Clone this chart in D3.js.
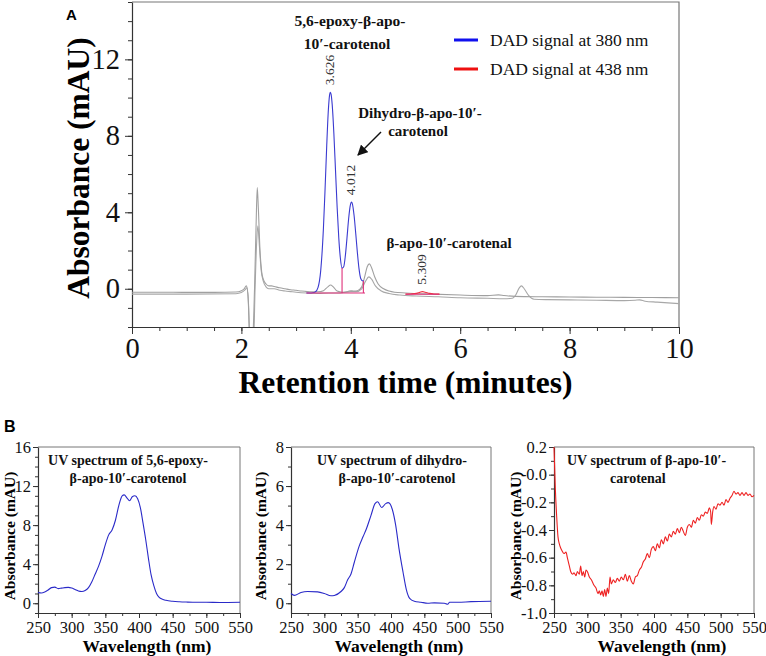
<!DOCTYPE html>
<html><head><meta charset="utf-8">
<script src="https://cdn.jsdelivr.net/npm/d3@7"></script>
<style>body{margin:0;background:#fff}</style>
</head><body><svg id="c" width="766" height="656" xmlns="http://www.w3.org/2000/svg"></svg>
<script>
// ---------- Panel A data: chromatogram ----------
const retentionTicks = [0, 2, 4, 6, 8, 10];
const absorbanceTicksA = [0, 4, 8, 12];
const grayUpper = [[0,-0.18],[0.5,-0.18],[1.0,-0.19],[1.5,-0.19],[1.9,-0.17],[2.0,-0.1],[2.05,0.0],[2.09,0.15],[2.12,-0.3],[2.15,-2.5],[2.18,-3],[2.21,-2.5],[2.24,0],[2.27,3.5],[2.29,5.3],[2.31,4.2],[2.34,2.0],[2.37,0.9],[2.4,0.5],[2.45,0.25],[2.5,0.15],[2.55,0.15],[2.6,0.12],[2.7,0.05],[2.8,0.0],[2.9,-0.05],[3.0,-0.08],[3.1,-0.12],[3.2,-0.15],[3.3,-0.16],[3.4,-0.16],[3.5,-0.1],[3.58,0.1],[3.63,0.2],[3.68,0.1],[3.75,-0.12],[3.85,-0.18],[3.95,-0.14],[4.0,-0.1],[4.05,-0.12],[4.12,-0.1],[4.2,0.1],[4.26,0.7],[4.3,1.15],[4.34,1.3],[4.38,1.1],[4.44,0.6],[4.5,0.25],[4.6,0.0],[4.7,-0.12],[4.8,-0.18],[5.0,-0.22],[5.5,-0.28],[6.0,-0.33],[6.5,-0.36],[6.7,-0.32],[6.8,-0.35],[7.0,-0.4],[7.5,-0.42],[8.0,-0.43],[8.5,-0.44],[9.0,-0.45],[9.5,-0.46],[10,-0.47]];
const grayLower = [[0,-0.28],[1.0,-0.28],[1.9,-0.26],[2.0,-0.2],[2.07,-0.05],[2.1,0.05],[2.13,-0.8],[2.16,-3],[2.22,-3],[2.25,0],[2.28,2.5],[2.3,3.3],[2.33,2.2],[2.36,1.0],[2.4,0.4],[2.45,0.1],[2.5,0.0],[2.6,0.0],[2.7,-0.08],[2.8,-0.12],[2.9,-0.15],[3.0,-0.18],[3.2,-0.22],[3.4,-0.24],[3.6,-0.22],[3.8,-0.22],[4.0,-0.15],[4.1,-0.15],[4.2,0.0],[4.27,0.4],[4.33,0.62],[4.38,0.5],[4.45,0.15],[4.55,-0.1],[4.7,-0.25],[4.9,-0.33],[5.2,-0.38],[5.6,-0.42],[6.0,-0.47],[6.5,-0.5],[6.8,-0.52],[6.95,-0.5],[7.02,-0.3],[7.08,0.05],[7.12,0.15],[7.17,0.0],[7.25,-0.35],[7.35,-0.55],[7.6,-0.57],[8.0,-0.58],[8.5,-0.6],[9.0,-0.62],[9.2,-0.6],[9.28,-0.58],[9.38,-0.65],[9.6,-0.7],[10,-0.78]];
const signal380 = [[3.19,-0.22],[3.25,-0.22],[3.30,-0.21],[3.35,-0.17],[3.40,0.06],[3.45,0.95],[3.50,3.19],[3.53,5.24],[3.56,7.49],[3.59,9.36],[3.61,10.09],[3.626,10.28],[3.64,10.17],[3.66,9.63],[3.69,8.15],[3.72,6.22],[3.75,4.28],[3.78,2.67],[3.81,1.58],[3.84,1.08],[3.87,1.15],[3.90,1.72],[3.93,2.65],[3.96,3.65],[3.99,4.35],[4.012,4.53],[4.03,4.43],[4.06,3.83],[4.09,2.90],[4.12,1.90],[4.15,1.05],[4.18,0.55],[4.21,0.42],[4.24,0.40]];
const signal438 = [[5.0,-0.28],[5.1,-0.27],[5.2,-0.24],[5.26,-0.19],[5.31,-0.15],[5.36,-0.18],[5.44,-0.24],[5.52,-0.27],[5.62,-0.28]];
const integrationBaselines = [[[3.19,-0.22],[4.26,-0.22]], [[5.0,-0.29],[5.62,-0.29]]];
const dropLines = [[3.84,-0.22,1.08],[4.23,-0.22,0.40]];
const peakTimes = [[3.626,10.28,"3.626"],[4.012,4.53,"4.012"],[5.309,-0.15,"5.309"]];
const legendLabels = ["DAD signal at 380 nm","DAD signal at 438 nm"];

// ---------- Panel B data: UV spectra ----------
const wavelengthTicks = [250,300,350,400,450,500,550];
const spectrumEpoxy = [[250,1.1],[255,1.05],[260,1.15],[265,1.35],[270,1.6],[275,1.65],[280,1.5],[285,1.55],[290,1.6],[295,1.62],[300,1.55],[305,1.4],[310,1.25],[315,1.2],[320,1.3],[325,1.6],[330,2.2],[335,3.0],[340,3.8],[345,4.8],[350,6.0],[355,7.0],[360,7.5],[365,8.5],[370,10.0],[375,11.0],[378,11.1],[382,10.8],[386,10.5],[390,10.9],[394,11.0],[398,10.7],[402,9.8],[406,8.2],[410,6.5],[414,4.6],[418,2.9],[422,1.8],[426,1.0],[430,0.6],[435,0.4],[440,0.3],[450,0.2],[460,0.15],[470,0.12],[480,0.1],[490,0.1],[500,0.1],[520,0.08],[550,0.1]];
const spectrumDihydro = [[250,0.5],[255,0.4],[265,0.55],[275,0.6],[290,0.58],[300,0.5],[310,0.38],[315,0.4],[325,0.6],[330,0.8],[335,1.2],[340,1.5],[345,2.1],[352,2.9],[358,3.4],[363,3.8],[370,4.5],[376,5.1],[380,5.2],[386,4.9],[392,5.1],[396,5.15],[402,4.8],[407,4.0],[412,2.8],[418,1.6],[423,0.7],[428,0.25],[435,0.1],[445,0.05],[455,0.0],[465,0.02],[480,0.0],[485,-0.05],[488,0.05],[500,0.05],[520,0.08],[550,0.1]];
const spectrumCarotenal = [[250,0.2],[252,-0.1],[254,-0.3],[256,-0.45],[258,-0.5],[260,-0.53],[262,-0.55],[265,-0.57],[268,-0.56],[270,-0.6],[273,-0.66],[275,-0.7],[278,-0.72],[280,-0.71],[283,-0.73],[285,-0.7],[288,-0.72],[290,-0.66],[292,-0.73],[294,-0.7],[296,-0.74],[298,-0.69],[300,-0.7],[303,-0.74],[306,-0.76],[310,-0.8],[313,-0.82],[316,-0.86],[318,-0.84],[320,-0.87],[322,-0.84],[324,-0.88],[326,-0.83],[328,-0.88],[330,-0.82],[332,-0.86],[334,-0.74],[336,-0.79],[339,-0.76],[342,-0.78],[345,-0.75],[348,-0.77],[351,-0.74],[354,-0.76],[357,-0.72],[360,-0.77],[363,-0.73],[366,-0.77],[369,-0.79],[372,-0.74],[375,-0.73],[378,-0.69],[381,-0.67],[384,-0.63],[387,-0.61],[390,-0.57],[393,-0.6],[396,-0.54],[399,-0.52],[402,-0.55],[405,-0.5],[408,-0.53],[411,-0.47],[414,-0.5],[417,-0.45],[420,-0.48],[423,-0.43],[426,-0.45],[429,-0.41],[432,-0.43],[435,-0.39],[438,-0.42],[441,-0.38],[444,-0.41],[447,-0.44],[450,-0.38],[453,-0.36],[456,-0.38],[459,-0.33],[462,-0.35],[465,-0.31],[468,-0.33],[471,-0.29],[474,-0.3],[477,-0.27],[480,-0.28],[483,-0.24],[485,-0.27],[486,-0.36],[488,-0.27],[490,-0.23],[493,-0.25],[496,-0.21],[499,-0.22],[502,-0.2],[505,-0.22],[508,-0.18],[511,-0.2],[514,-0.17],[517,-0.15],[520,-0.12],[523,-0.14],[526,-0.13],[529,-0.15],[532,-0.13],[535,-0.15],[538,-0.13],[541,-0.15],[544,-0.14],[547,-0.16],[550,-0.15]];

const serif = "'Liberation Serif','Times New Roman',serif";
const sans = "'Liberation Sans',Arial,sans-serif";
const svg = d3.select("#c");

// ================= Panel A =================
const A = {l:132, r:679, t:2, b:327};
const xA = d3.scaleLinear().domain([0,10]).range([A.l, A.r]);
const yA = d3.scaleLinear().domain([-2,15]).range([A.b, A.t]);

svg.append("defs").append("clipPath").attr("id","clipA")
  .append("rect").attr("x",A.l).attr("y",A.t).attr("width",A.r-A.l).attr("height",A.b-A.t);

svg.append("path").attr("d",`M${A.l},${A.t}H${A.r}V${A.b}`).attr("fill","none").attr("stroke","#777").attr("stroke-width",1.2);

function styleAxis(g, fs){
  g.select(".domain").attr("stroke","#333").attr("stroke-width",1.2);
  g.selectAll(".tick line").attr("stroke","#333");
  g.selectAll("text").attr("font-family",serif).attr("font-size",fs).attr("fill","#111");
}
svg.append("g").attr("transform",`translate(0,${A.b})`)
  .call(d3.axisBottom(xA).tickValues(d3.range(0,10.01,0.5)).tickSize(4).tickFormat(""))
  .call(g=>{g.select(".domain").remove(); g.selectAll("line").attr("stroke","#333");});
svg.append("g").attr("transform",`translate(${A.l},0)`)
  .call(d3.axisLeft(yA).tickValues(d3.range(-2,15.01,1)).tickSize(4).tickFormat(""))
  .call(g=>{g.select(".domain").remove(); g.selectAll("line").attr("stroke","#333");});
svg.append("g").attr("transform",`translate(0,${A.b})`)
  .call(d3.axisBottom(xA).tickValues(retentionTicks).tickSize(7).tickPadding(4).tickSizeOuter(0))
  .call(g=>styleAxis(g,28.5));
svg.append("g").attr("transform",`translate(${A.l},0)`)
  .call(d3.axisLeft(yA).tickValues(absorbanceTicksA).tickSize(7).tickPadding(5).tickSizeOuter(0))
  .call(g=>styleAxis(g,28.5));

const lineA = d3.line().x(d=>xA(d[0])).y(d=>yA(d[1])).curve(d3.curveMonotoneX);
const plotA = svg.append("g").attr("clip-path","url(#clipA)");
plotA.append("path").datum(grayLower).attr("d",lineA).attr("fill","none").attr("stroke","#a8a8a8").attr("stroke-width",1.1);
plotA.append("path").datum(grayUpper).attr("d",lineA).attr("fill","none").attr("stroke","#a0a0a0").attr("stroke-width",1.1);
plotA.append("path").datum(signal380).attr("d",lineA).attr("fill","none").attr("stroke","#3a3ad0").attr("stroke-width",1.1);
plotA.append("path").datum(signal438).attr("d",lineA).attr("fill","none").attr("stroke","#f03040").attr("stroke-width",1.1);
integrationBaselines.forEach(seg=>{
  plotA.append("path").datum(seg).attr("d",d3.line().x(d=>xA(d[0])).y(d=>yA(d[1]))).attr("stroke","#e0307a").attr("stroke-width",1.1).attr("fill","none");
});
dropLines.forEach(d=>{
  plotA.append("line").attr("x1",xA(d[0])).attr("x2",xA(d[0])).attr("y1",yA(d[1])).attr("y2",yA(d[2])).attr("stroke","#e0307a").attr("stroke-width",1.1);
});
peakTimes.forEach(d=>{
  const x = xA(d[0])+4, y = yA(d[1])-7;
  svg.append("text").attr("transform",`translate(${x},${y}) rotate(-90)`)
    .attr("font-family",serif).attr("font-size",13.5).attr("fill","#333").text(d[2]);
});

// axis titles A
svg.append("text").attr("x",(A.l+A.r)/2).attr("y",393).attr("text-anchor","middle")
  .attr("font-family",serif).attr("font-weight","bold").attr("font-size",31.5).text("Retention time (minutes)");
svg.append("text").attr("transform",`translate(89,168) rotate(-90)`).attr("text-anchor","middle")
  .attr("font-family",serif).attr("font-weight","bold").attr("font-size",31.5).text("Absorbance (mAU)");
svg.append("text").attr("x",66).attr("y",20).attr("font-family",sans).attr("font-weight","bold").attr("font-size",15).text("A");

function boldLabel(x,y,txt,anchor,fs){
  svg.append("text").attr("x",x).attr("y",y).attr("text-anchor",anchor||"middle")
    .attr("font-family",serif).attr("font-weight","bold").attr("font-size",fs||15).attr("fill","#111").text(txt);
}
boldLabel(350,26,"5,6-epoxy-β-apo-","middle",15.5);
boldLabel(347,49,"10′-carotenol","middle",15.5);
boldLabel(420,118,"Dihydro-β-apo-10′-","middle",15);
boldLabel(418,136,"carotenol","middle",15);
boldLabel(449,248,"β-apo-10′-carotenal","middle",15);
svg.append("defs").append("marker").attr("id","ah").attr("viewBox","0 0 10 10").attr("refX",9).attr("refY",5)
  .attr("markerWidth",7).attr("markerHeight",7).attr("orient","auto")
  .append("path").attr("d","M0,0L10,5L0,10z").attr("fill","#111");
svg.append("line").attr("x1",381).attr("y1",132).attr("x2",358).attr("y2",155).attr("stroke","#111").attr("stroke-width",1.5).attr("marker-end","url(#ah)");

const legColors = ["#1010ee","#ee1010"];
legendLabels.forEach((t,i)=>{
  const y = 40 + i*29;
  svg.append("line").attr("x1",454).attr("x2",478).attr("y1",y).attr("y2",y).attr("stroke",legColors[i]).attr("stroke-width",3);
  svg.append("text").attr("x",490).attr("y",y+6).attr("font-family",serif).attr("font-size",17.5).attr("fill","#111").text(t);
});

// ================= Panel B =================
svg.append("text").attr("x",4).attr("y",432).attr("font-family",sans).attr("font-weight","bold").attr("font-size",16).text("B");

const panels = [
  {l:38, r:240, data:spectrumEpoxy, yd:[-1,16], major:[0,4,8,12,16], minor:d3.range(-1,16.01,1), color:"#2a2ac8",
   titles:[[128,465,"UV spectrum of 5,6-epoxy-","middle"],[128,483,"β-apo-10′-carotenol","middle"]], fmt:d=>d, ytx:14.5},
  {l:291, r:491, data:spectrumDihydro, yd:[-0.5,8], major:[0,2,4,6,8], minor:d3.range(0,8.01,1), color:"#2a2ac8",
   titles:[[392,465,"UV spectrum of dihydro-","middle"],[397,483,"β-apo-10′-carotenol","middle"]], fmt:d=>d, ytx:266},
  {l:554, r:754, data:spectrumCarotenal, yd:[-1,0.2], major:[-1,-0.8,-0.6,-0.4,-0.2,0,0.2], minor:d3.range(-1,0.201,0.1), color:"#ee2020",
   titles:[[567,465,"UV spectrum of  β-apo-10′-","start"],[610,483,"carotenal","start"]], fmt:d=>Math.abs(d)<1e-9?"-0.0":d.toFixed(1), ytx:521}
];
const B = {t:447, b:613};
panels.forEach((p,i)=>{
  const x = d3.scaleLinear().domain([250,550]).range([p.l,p.r]);
  const y = d3.scaleLinear().domain(p.yd).range([B.b,B.t]);
  svg.append("path").attr("d",`M${p.l},${B.t}H${p.r}V${B.b}`).attr("fill","none").attr("stroke","#777").attr("stroke-width",1);
  svg.append("g").attr("transform",`translate(0,${B.b})`)
    .call(d3.axisBottom(x).tickValues(d3.range(250,550.1,25)).tickSize(3).tickFormat(""))
    .call(g=>{g.select(".domain").remove(); g.selectAll("line").attr("stroke","#333");});
  svg.append("g").attr("transform",`translate(${p.l},0)`)
    .call(d3.axisLeft(y).tickValues(p.minor).tickSize(3).tickFormat(""))
    .call(g=>{g.select(".domain").remove(); g.selectAll("line").attr("stroke","#333");});
  svg.append("g").attr("transform",`translate(0,${B.b})`)
    .call(d3.axisBottom(x).tickValues(wavelengthTicks).tickSize(5).tickPadding(3).tickSizeOuter(0))
    .call(g=>styleAxis(g,16.5));
  svg.append("g").attr("transform",`translate(${p.l},0)`)
    .call(d3.axisLeft(y).tickValues(p.major).tickSize(5).tickPadding(2).tickSizeOuter(0).tickFormat(p.fmt))
    .call(g=>styleAxis(g,16.5));
  svg.append("path").datum(p.data)
    .attr("d",d3.line().x(d=>x(d[0])).y(d=>y(d[1])).curve(d3.curveMonotoneX))
    .attr("fill","none").attr("stroke",p.color).attr("stroke-width",1.1);
  p.titles.forEach(t=>{
    svg.append("text").attr("x",t[0]).attr("y",t[1]).attr("text-anchor",t[3])
      .attr("font-family",serif).attr("font-weight","bold").attr("font-size",14).attr("fill","#111").text(t[2]);
  });
  svg.append("text").attr("x",(p.l+p.r)/2+8).attr("y",652).attr("text-anchor","middle")
    .attr("font-family",serif).attr("font-weight","bold").attr("font-size",17.5).text("Wavelength (nm)");
  svg.append("text").attr("transform",`translate(${p.ytx},536) rotate(-90)`).attr("text-anchor","middle")
    .attr("font-family",serif).attr("font-weight","bold").attr("font-size",15.5).text("Absorbance (mAU)");
});
</script>
</body></html>
